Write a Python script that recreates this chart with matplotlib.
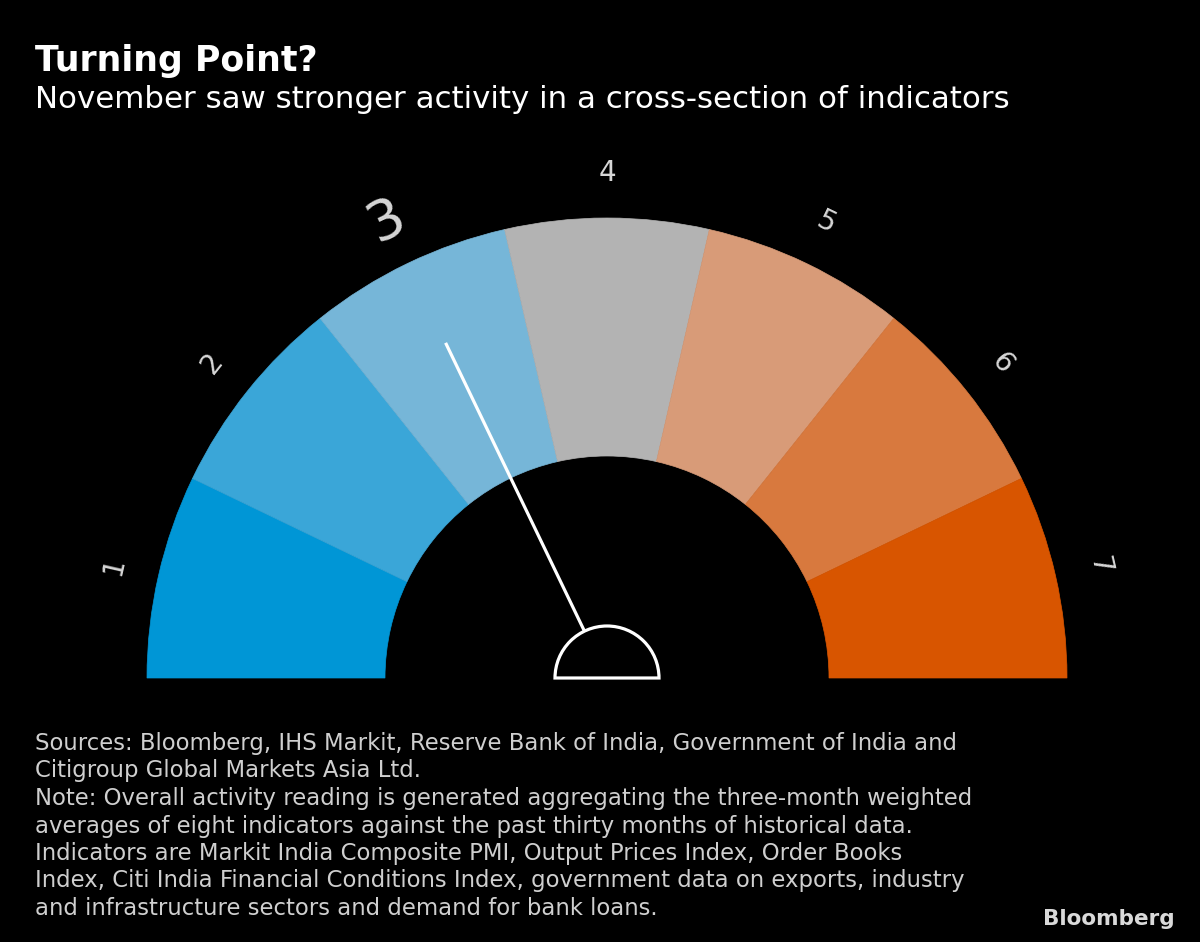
import matplotlib
matplotlib.use("Agg")
import matplotlib.pyplot as plt
from matplotlib.patches import Wedge
import numpy as np

# ---- data ----
segment_labels = ["1", "2", "3", "4", "5", "6", "7"]
segment_colors = ["#0096d6", "#3aa6d8", "#76b6d8", "#b3b3b3", "#d89b78", "#d8793e", "#d85500"]
reading = 3  # needle points to this segment

title = "Turning Point?"
subtitle = "November saw stronger activity in a cross-section of indicators"
footer_lines = [
    "Sources: Bloomberg, IHS Markit, Reserve Bank of India, Government of India and",
    "Citigroup Global Markets Asia Ltd.",
    "Note: Overall activity reading is generated aggregating the three-month weighted",
    "averages of eight indicators against the past thirty months of historical data.",
    "Indicators are Markit India Composite PMI, Output Prices Index, Order Books",
    "Index, Citi India Financial Conditions Index, government data on exports, industry",
    "and infrastructure sectors and demand for bank loans.",
]

W, H = 1200, 942
fig = plt.figure(figsize=(W / 100, H / 100), dpi=100, facecolor="black")
ax = fig.add_axes([0, 0, 1, 1])
ax.set_xlim(0, W)
ax.set_ylim(0, H)
ax.set_facecolor("black")
ax.axis("off")

sans = ["DejaVu Sans"]

def Y(y):
    return H - y

# title / subtitle
ax.text(35, Y(71), title, color="white", fontsize=25, fontweight="bold",
        family=sans, va="baseline", ha="left")
ax.text(35, Y(108), subtitle, color="white", fontsize=22.2,
        family=sans, va="baseline", ha="left")

# gauge
cx, cy = 607, Y(678)
r_out, r_in = 460, 222
n = len(segment_labels)
step = 180.0 / n
for i, (lab, col) in enumerate(zip(segment_labels, segment_colors)):
    t2 = 180 - i * step
    t1 = t2 - step
    ax.add_patch(Wedge((cx, cy), r_out, t1, t2, width=r_out - r_in,
                       facecolor=col, edgecolor=col, linewidth=0.5))
    mid = np.deg2rad((t1 + t2) / 2)
    big = (i + 1) == reading
    rl = 507 if big else 505
    ax.text(cx + rl * np.cos(mid), cy + rl * np.sin(mid), lab,
            color="#d6d6d6", fontsize=40 if big else 20,
            family=sans, fontweight="normal",
            rotation=np.rad2deg(mid) - 90, rotation_mode="anchor",
            ha="center", va="center")

# needle
ang = np.deg2rad(180 - (reading - 0.5) * step)
r0, r1 = 52, 372
ax.plot([cx + r0 * np.cos(ang), cx + r1 * np.cos(ang)],
        [cy + r0 * np.sin(ang), cy + r1 * np.sin(ang)],
        color="white", linewidth=2.3, solid_capstyle="butt")
ax.add_patch(Wedge((cx, cy), 52, 0, 180, facecolor="black",
                   edgecolor="white", linewidth=2.3))

# footer
for k, line in enumerate(footer_lines):
    ax.text(35, Y(750 + 27.5 * k), line, color="#cfcfcf", fontsize=16.4,
            family=sans, va="baseline", ha="left")

ax.text(1175, Y(925), "Bloomberg", color="#d9d9d9", fontsize=15.5,
        fontweight="bold", family=sans, va="baseline", ha="right")

fig.savefig("out.png", dpi=100, facecolor="black")
